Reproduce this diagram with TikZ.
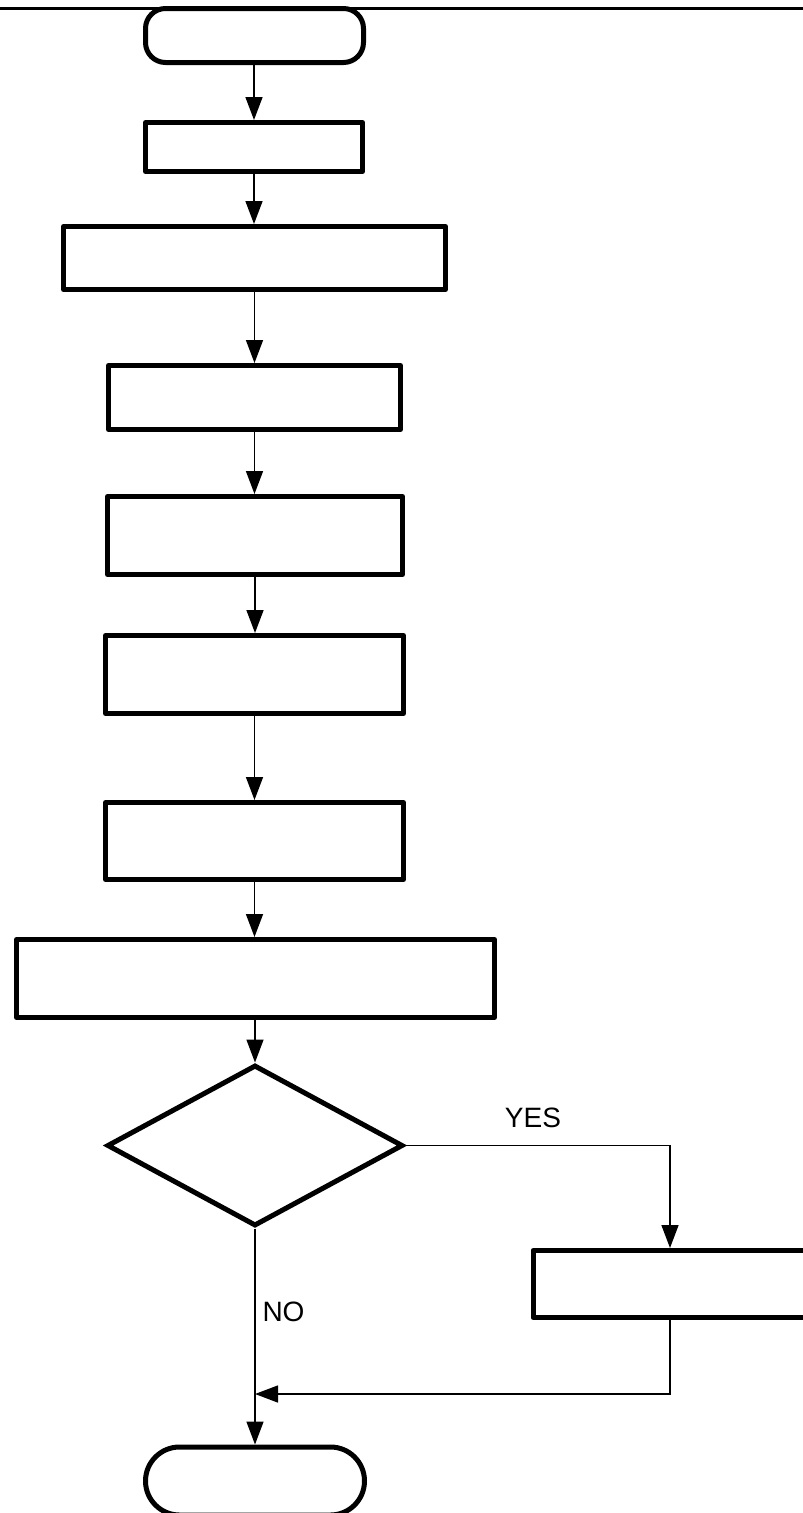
\documentclass[tikz,border=0pt]{standalone}
\usepackage{fontspec}
\setmainfont{Liberation Sans}
\usetikzlibrary{arrows.meta,shapes.geometric}
\begin{document}
\begin{tikzpicture}[x=1pt,y=-1pt,
  box/.style={draw=black,line width=5pt,line join=round,inner sep=0pt,fill=white},
  term/.style={box,rounded corners=#1},
  decision/.style={draw=black,line width=5pt,diamond,inner sep=0pt,fill=white},
  conn/.style={draw=black,line width=1.5pt},
  arrow/.style={conn,-{Triangle[length=23pt,width=17pt]}},
  lbl/.style={font=\fontsize{28}{32}\selectfont,inner sep=0pt}]
\useasboundingbox (0,0) rectangle (803,1513);
\clip (0,0) rectangle (803,1513);
\fill[white] (0,0) rectangle (803,1513);

% top rule
\draw[line width=3pt] (0,8) -- (803,8);

% main column
\node[term=20pt,minimum width=218pt,minimum height=54pt] (start) at (254.5,35.5) {};
\node[box,minimum width=217pt,minimum height=49pt] (b1) at (254,147) {};
\node[box,minimum width=382pt,minimum height=63pt] (b2) at (254.5,258) {};
\node[box,minimum width=292pt,minimum height=64pt] (b3) at (254.5,397.5) {};
\node[box,minimum width=295pt,minimum height=78pt] (b4) at (255,535.5) {};
\node[box,minimum width=298pt,minimum height=78pt] (b5) at (254.5,674.5) {};
\node[box,minimum width=298pt,minimum height=77pt] (b6) at (254.5,841) {};
\node[box,minimum width=478pt,minimum height=78pt] (b7) at (255.5,978.5) {};
\node[decision,minimum width=296pt,minimum height=161pt] (dec) at (255,1145.5) {};
\node[term=34pt,minimum width=219pt,minimum height=68pt] (stop) at (255,1481) {};

% branch box on the right
\node[box,minimum width=307pt,minimum height=67pt] (rb) at (686.5,1284) {};

% helper points for the branch route
\coordinate (rx) at (670,1146);
\coordinate (join) at (255,1394);

% connectors
\draw[arrow] (start.south -| b1.north) -- (b1.north);
\draw[arrow] (b1.south) -- (b1.south |- b2.north);
\draw[arrow] (b2.south -| b3.north) -- (b3.north);
\draw[arrow] (b3.south) -- (b3.south |- b4.north);
\draw[arrow] (b4.south) -- (b4.south |- b5.north);
\draw[arrow] (b5.south) -- (b5.south |- b6.north);
\draw[arrow] (b6.south) -- (b6.south |- b7.north);
\draw[arrow] (b7.south -| dec.north) -- (dec.north);
\draw[arrow] (dec.south) -- (stop.north);
\draw[arrow] (dec.east) -| (rx |- rb.north);
\draw[arrow] (rx |- rb.south) |- (join);

% branch labels
\node[lbl] (yes) at (533,1118) {YES};
\node[lbl] (no) at (283.5,1311.5) {NO};
\end{tikzpicture}
\end{document}
